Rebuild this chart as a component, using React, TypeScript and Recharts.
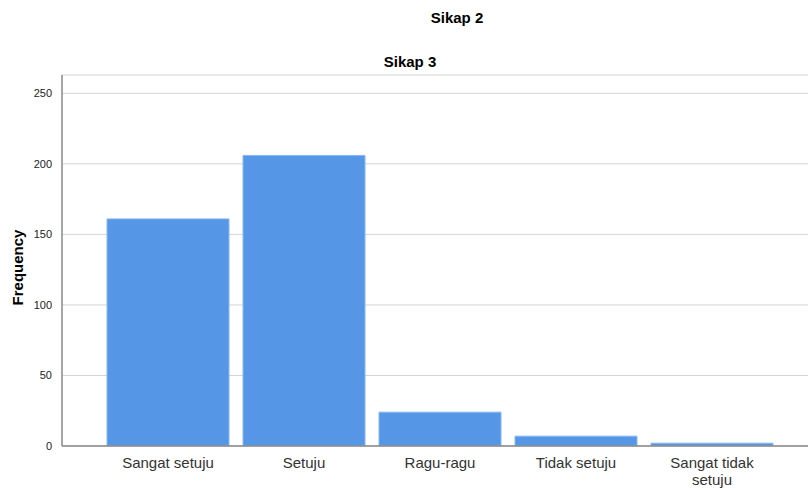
import { BarChart, Bar, XAxis, YAxis, CartesianGrid } from 'recharts';

const categories = ['Sangat setuju', 'Setuju', 'Ragu-ragu', 'Tidak setuju', 'Sangat tidak setuju'];
const frequencies = [161, 206, 24, 7, 2];
const yTicks = [0, 50, 100, 150, 200, 250];

const data = categories.map((name, i) => ({ name, value: frequencies[i] }));

const FONT = '"Liberation Sans", Arial, sans-serif';

const CategoryTick = ({ x, y, payload }: any) => {
  const label: string = payload.value;
  const lines = label === 'Sangat tidak setuju' ? ['Sangat tidak', 'setuju'] : [label];
  return (
    <text x={x} y={y} textAnchor="middle" fontFamily={FONT} fontSize={15} fill="#333">
      {lines.map((l, i) => (
        <tspan key={i} x={x} dy={i === 0 ? 14 : 17}>{l}</tspan>
      ))}
    </text>
  );
};

const FrequencyLabel = ({ viewBox }: any) => {
  const cy = viewBox.y + viewBox.height / 2 + 7;
  return (
    <text
      x={23}
      y={cy}
      transform={`rotate(-90, 23, ${cy})`}
      textAnchor="middle"
      fontFamily={FONT}
      fontSize={15}
      fontWeight="bold"
      fill="#000"
    >
      Frequency
    </text>
  );
};

export default function App() {
  return (
    <div style={{ position: 'absolute', left: 0, top: 0, width: 809, height: 490, background: '#fff' }}>
      <div style={{ position: 'absolute', left: 0, width: 914, top: 9, textAlign: 'center', fontFamily: FONT, fontSize: 15, fontWeight: 'bold' }}>
        Sikap 2
      </div>
      <div style={{ position: 'absolute', left: 0, width: 820, top: 53, textAlign: 'center', fontFamily: FONT, fontSize: 15, fontWeight: 'bold' }}>
        Sikap 3
      </div>
      <BarChart
        width={809}
        height={490}
        data={data}
        margin={{ top: 75, right: 1, bottom: 0, left: 0 }}
        barSize={122}
      >
        <CartesianGrid vertical={false} stroke="#d4d4d4" strokeWidth={1} />
        <XAxis
          dataKey="name"
          padding={{ left: 38, right: 28 }}
          tickLine={false}
          axisLine={{ stroke: '#888', strokeWidth: 1.5 }}
          tick={<CategoryTick />}
          interval={0}
          height={44}
        />
        <YAxis
          width={62}
          domain={[0, 263]}
          ticks={yTicks}
          allowDataOverflow
          tickLine={false}
          axisLine={{ stroke: '#888', strokeWidth: 1.5 }}
          tick={{ fill: '#222', fontSize: 11, fontFamily: FONT }}
          tickMargin={4}
          label={<FrequencyLabel />}
        />
        <Bar dataKey="value" fill="#5596e6" stroke="#8ab8f0" strokeWidth={1} isAnimationActive={false} />
      </BarChart>
    </div>
  );
}
